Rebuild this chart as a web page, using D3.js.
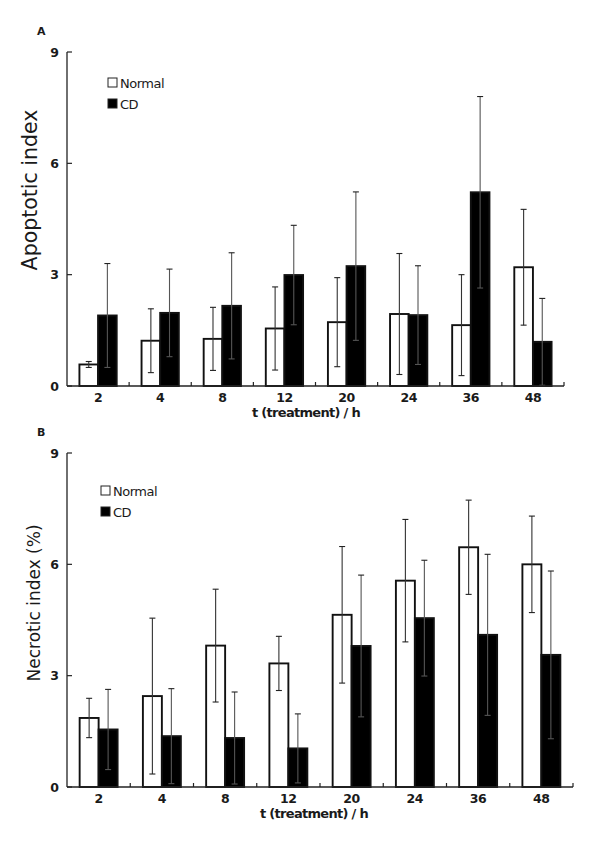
<!DOCTYPE html>
<html>
<head>
<meta charset="utf-8">
<script src="https://cdn.jsdelivr.net/npm/d3@7"></script>
<style>
  body { margin: 0; background: #fff; }
  svg text { font-family: "DejaVu Sans", Verdana, sans-serif; fill: #1a1a1a; }
</style>
</head>
<body>
<svg id="chart" width="600" height="841"></svg>
<script>
// time points (h)
const hours = ["2", "4", "8", "12", "20", "24", "36", "48"];
const yTicks = [0, 3, 6, 9];
const seriesNames = ["Normal", "CD"];

// panel A: apoptotic index, mean and SD
const apoNormal = [0.58, 1.22, 1.27, 1.55, 1.72, 1.94, 1.64, 3.20];
const apoNormalSD = [0.08, 0.86, 0.85, 1.12, 1.20, 1.63, 1.36, 1.56];
const apoCD = [1.90, 1.97, 2.16, 2.99, 3.23, 1.91, 5.22, 1.19];
const apoCDSD = [1.40, 1.18, 1.43, 1.34, 2.00, 1.33, 2.58, 1.17];

// panel B: necrotic index (%), mean and SD
const necNormal = [1.86, 2.45, 3.81, 3.33, 4.64, 5.56, 6.46, 6.00];
const necNormalSD = [0.53, 2.10, 1.52, 0.73, 1.84, 1.65, 1.27, 1.30];
const necCD = [1.55, 1.37, 1.32, 1.04, 3.80, 4.55, 4.10, 3.56];
const necCDSD = [1.08, 1.28, 1.24, 0.93, 1.91, 1.56, 2.17, 2.26];

const svg = d3.select("#chart");

function drawPanel(cfg) {
	const g = svg.append("g");

	const x = d3.scaleBand().domain(hours).range([cfg.x0, cfg.x1]);
	const y = d3.scaleLinear().domain([0, 9]).range([cfg.y0, cfg.y1]);
	const step = x.bandwidth();
	const barW = step * 0.3;

	// build rows for both series
	const rows = [];
	hours.forEach(function(h, i) {
		rows.push({h: h, s: 0, v: cfg.normal[i], sd: cfg.normalSD[i]});
		rows.push({h: h, s: 1, v: cfg.cd[i], sd: cfg.cdSD[i]});
	});
	const bx = d => x(d.h) + step / 2 + (d.s === 0 ? -barW : 0);

	// bars
	g.selectAll("rect.bar").data(rows).enter()
		.append("rect")
		.attr("class", "bar")
		.attr("x", bx)
		.attr("width", barW)
		.attr("y", d => y(d.v))
		.attr("height", d => y(0) - y(d.v))
		.attr("fill", d => d.s === 0 ? "#fff" : "#000")
		.attr("stroke", "#111")
		.attr("stroke-width", 1.9);

	// error bars
	const eb = g.selectAll("g.err").data(rows).enter()
		.append("g")
		.attr("class", "err")
		.attr("stroke", d => d.s === 0 ? "#333" : "#555")
		.attr("stroke-width", 1.1);
	const cx = d => bx(d) + barW / 2;
	eb.append("line")
		.attr("x1", cx).attr("x2", cx)
		.attr("y1", d => y(d.v + d.sd))
		.attr("y2", d => y(Math.max(0, d.v - d.sd)));
	eb.append("line")
		.attr("x1", d => cx(d) - 3).attr("x2", d => cx(d) + 3)
		.attr("y1", d => y(d.v + d.sd)).attr("y2", d => y(d.v + d.sd))
		.attr("stroke", "#222");
	eb.append("line")
		.attr("x1", d => cx(d) - 3).attr("x2", d => cx(d) + 3)
		.attr("y1", d => y(Math.max(0, d.v - d.sd))).attr("y2", d => y(Math.max(0, d.v - d.sd)))
		.attr("stroke", d => d.s === 0 ? "#222" : "#555");

	// y axis
	g.append("line")
		.attr("x1", cfg.x0).attr("x2", cfg.x0)
		.attr("y1", y(9)).attr("y2", y(0))
		.attr("stroke", "#222").attr("stroke-width", 1.3);
	g.selectAll("line.ytick").data(yTicks).enter()
		.append("line")
		.attr("x1", cfg.x0).attr("x2", cfg.x0 + 5)
		.attr("y1", d => y(d)).attr("y2", d => y(d))
		.attr("stroke", "#222").attr("stroke-width", 1.2);
	g.selectAll("text.ylab").data(yTicks).enter()
		.append("text")
		.attr("x", cfg.x0 - 8)
		.attr("y", d => y(d) + 4.5)
		.attr("text-anchor", "end")
		.attr("font-size", 12.5)
		.attr("font-weight", "bold")
		.text(d => d);

	// x axis
	g.append("line")
		.attr("x1", cfg.x0).attr("x2", cfg.x1)
		.attr("y1", y(0)).attr("y2", y(0))
		.attr("stroke", "#222").attr("stroke-width", 1.3);
	g.selectAll("line.xtick").data(hours).enter()
		.append("line")
		.attr("x1", d => x(d) + step).attr("x2", d => x(d) + step)
		.attr("y1", y(0)).attr("y2", y(0) - 4)
		.attr("stroke", "#222").attr("stroke-width", 1.2);
	g.selectAll("text.xlab").data(hours).enter()
		.append("text")
		.attr("x", d => x(d) + step / 2)
		.attr("y", y(0) + 16)
		.attr("text-anchor", "middle")
		.attr("font-size", 12.5)
		.attr("font-weight", "bold")
		.attr("letter-spacing", -0.4)
		.text(d => d);
	g.append("text")
		.attr("x", cfg.xTitleX)
		.attr("y", y(0) + 31)
		.attr("text-anchor", "middle")
		.attr("font-size", 13)
		.attr("font-weight", "bold")
		.attr("letter-spacing", -0.7)
		.text("t (treatment) / h");

	// y title
	g.append("text")
		.attr("transform", "translate(" + cfg.yTitleX + "," + cfg.yTitleY + ") rotate(-90)")
		.attr("text-anchor", "middle")
		.attr("font-size", cfg.yTitleSize)
		.text(cfg.yTitle);

	// panel letter
	g.append("text")
		.attr("x", 37).attr("y", cfg.letterY)
		.attr("font-size", 11)
		.attr("font-weight", "bold")
		.text(cfg.letter);

	// legend
	const lg = g.selectAll("g.leg").data(seriesNames).enter()
		.append("g")
		.attr("class", "leg")
		.attr("transform", (d, i) => "translate(" + cfg.legX + "," + (cfg.legY + i * 21) + ")");
	lg.append("rect")
		.attr("width", 9).attr("height", 9)
		.attr("fill", (d, i) => i === 0 ? "#fff" : "#000")
		.attr("stroke", "#222").attr("stroke-width", 1);
	lg.append("text")
		.attr("x", 12).attr("y", 9.5)
		.attr("font-size", 13)
		.attr("letter-spacing", -0.5)
		.attr("fill", "#333")
		.text(d => d);
}

drawPanel({
	letter: "A", letterY: 35,
	x0: 67, x1: 564, y0: 386, y1: 52,
	normal: apoNormal, normalSD: apoNormalSD, cd: apoCD, cdSD: apoCDSD,
	yTitle: "Apoptotic index", yTitleX: 37, yTitleY: 190, yTitleSize: 20.5,
	xTitleX: 306, legX: 108, legY: 78
});

drawPanel({
	letter: "B", letterY: 436,
	x0: 67, x1: 573, y0: 787, y1: 453,
	normal: necNormal, normalSD: necNormalSD, cd: necCD, cdSD: necCDSD,
	yTitle: "Necrotic index (%)", yTitleX: 40, yTitleY: 603, yTitleSize: 17,
	xTitleX: 314, legX: 101, legY: 486
});
</script>
</body>
</html>
